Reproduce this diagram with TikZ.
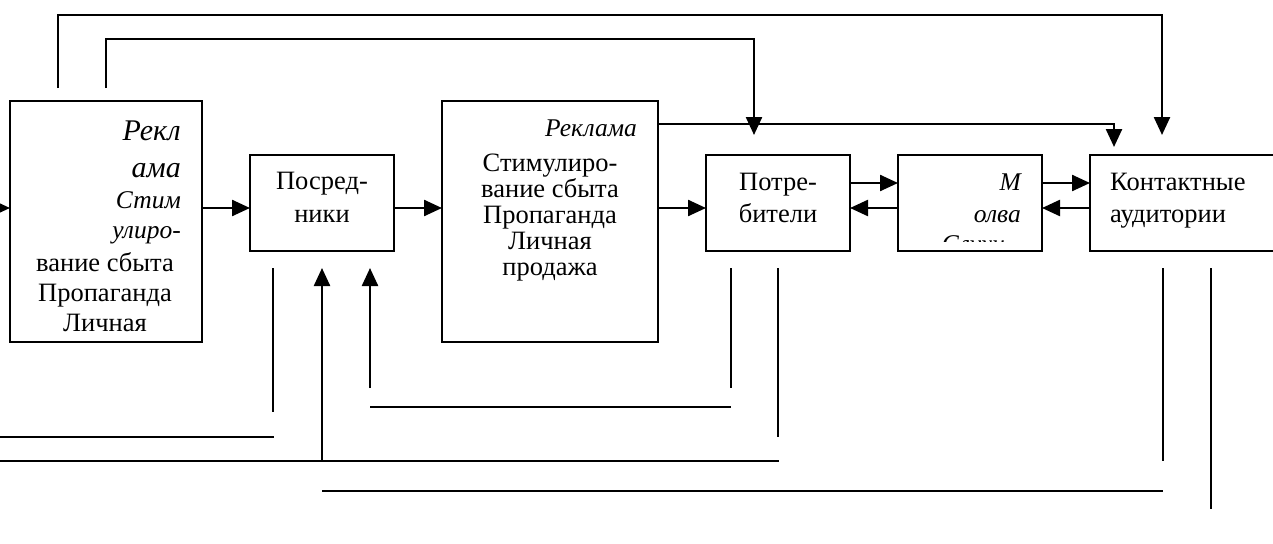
\documentclass[tikz,border=0pt]{standalone}
\usepackage{fontspec}
\setmainfont{Liberation Serif}
\usetikzlibrary{arrows.meta}
\begin{document}
\begin{tikzpicture}[x=1pt,y=-1pt,
  boxst/.style={draw, line width=2.2pt, inner sep=0pt, outer sep=0pt, anchor=north west},
  ln/.style={line width=2.4pt},
  arr/.style={line width=2.4pt, -{Triangle[length=18pt,width=16pt]}},
  txt/.style={inner sep=0pt, font=\fontsize{26.5}{30}\selectfont},
  itx/.style={inner sep=0pt, font=\fontsize{25.5}{30}\selectfont\itshape},
  itbig/.style={inner sep=0pt, font=\fontsize{30}{34}\selectfont\itshape}]
\useasboundingbox (0,0) rectangle (1273,543);

% boxes
\node[boxst, minimum width=192pt, minimum height=241pt] (b1) at (10,101) {};
\node[boxst, minimum width=144pt, minimum height=96pt] (b2) at (250,155) {};
\node[boxst, minimum width=216pt, minimum height=241pt] (b3) at (442,101) {};
\node[boxst, minimum width=144pt, minimum height=96pt] (b4) at (706,155) {};
\node[boxst, minimum width=144pt, minimum height=96pt] (b5) at (898,155) {};
\node[boxst, minimum width=220pt, minimum height=96pt] (b6) at (1090,155) {};

% texts box 1
\node[itbig, anchor=base east] (t1a) at (181,140) {Рекл};
\node[itbig, anchor=base east] (t1b) at (181,177) {ама};
\node[itx, anchor=base east] (t1c) at (181,208) {Стим};
\node[itx, anchor=base east] (t1d) at (181,238) {улиро-};
\node[txt, anchor=base] (t1e) at (105,271) {вание сбыта};
\node[txt, anchor=base] (t1f) at (105,301) {Пропаганда};
\node[txt, anchor=base] (t1g) at (105,331) {Личная};

% box 2
\node[txt, anchor=base] (t2a) at (322,189) {Посред-};
\node[txt, anchor=base] (t2b) at (322,222) {ники};

% box 3
\node[itx, anchor=base east] (t3a) at (637,136) {Реклама};
\node[txt, anchor=base] (t3b) at (550,171) {Стимулиро-};
\node[txt, anchor=base] (t3c) at (550,197) {вание сбыта};
\node[txt, anchor=base] (t3d) at (550,223) {Пропаганда};
\node[txt, anchor=base] (t3e) at (550,249) {Личная};
\node[txt, anchor=base] (t3f) at (550,275) {продажа};

% box 4
\node[txt, anchor=base] (t4a) at (778,190) {Потре-};
\node[txt, anchor=base] (t4b) at (778,222) {бители};

% box 5
\node[itx, anchor=base east] (t5a) at (1021,190) {М};
\node[itx, anchor=base east] (t5b) at (1021,222) {олва};
\begin{scope}
  \clip (899,156) rectangle (1041,241);
  \node[itx, anchor=base east] (t5c) at (1005,252) {Слухи};
\end{scope}

% box 6
\node[txt, anchor=base west] (t6a) at (1110,190) {Контактные};
\node[txt, anchor=base west] (t6b) at (1110,222) {аудитории};

% horizontal arrows
\coordinate (rL) at (0,208);
\coordinate (rU) at (0,183);
\draw[arr] (rL) -- (rL -| b1.west);
\draw[arr] (b1.east |- rL) -- (b2.west |- rL);
\draw[arr] (b2.east |- rL) -- (b3.west |- rL);
\draw[arr] (b3.east |- rL) -- (b4.west |- rL);
\draw[arr] (b4.east |- rU) -- (b5.west |- rU);
\draw[arr] (b5.west |- rL) -- (b4.east |- rL);
\draw[arr] (b5.east |- rU) -- (b6.west |- rU);
\draw[arr] (b6.west |- rL) -- (b5.east |- rL);

% top feedback lines
\coordinate (top1) at (0,15);
\coordinate (top2) at (0,39);
\coordinate (r3) at (0,124);
\coordinate (s1) at (58,88);
\coordinate (e1) at (1162,135);
\coordinate (s2) at (106,88);
\coordinate (e2) at (754,135);
\coordinate (e3) at (1114,147);
\draw[arr] (s1) -- (s1 |- top1) -- (e1 |- top1) -- (e1);
\draw[arr] (s2) -- (s2 |- top2) -- (e2 |- top2) -- (e2);
\draw[arr] (b3.east |- r3) -- (e3 |- r3) -- (e3);

% bottom lines
\coordinate (v1a) at (273,268); \coordinate (v1b) at (273,412);
\coordinate (h1a) at (0,437);   \coordinate (h1b) at (274,437);
\coordinate (u1a) at (322,461); \coordinate (u1b) at (322,268);
\coordinate (u2a) at (370,388); \coordinate (u2b) at (370,268);
\coordinate (h2a) at (370,407); \coordinate (h2b) at (731,407);
\coordinate (v2a) at (731,268); \coordinate (v2b) at (731,388);
\coordinate (v3a) at (778,268); \coordinate (v3b) at (778,437);
\coordinate (h3a) at (0,461);   \coordinate (h3b) at (779,461);
\coordinate (h4a) at (322,491); \coordinate (h4b) at (1163,491);
\coordinate (v4a) at (1163,268); \coordinate (v4b) at (1163,461);
\coordinate (v5a) at (1211,268); \coordinate (v5b) at (1211,509);

\draw[ln] (v1a) -- (v1b);
\draw[ln] (h1a) -- (h1b);
\draw[arr] (u1a) -- (u1b);
\draw[arr] (u2a) -- (u2b);
\draw[ln] (h2a) -- (h2b);
\draw[ln] (v2a) -- (v2b);
\draw[ln] (v3a) -- (v3b);
\draw[ln] (h3a) -- (h3b);
\draw[ln] (h4a) -- (h4b);
\draw[ln] (v4a) -- (v4b);
\draw[ln] (v5a) -- (v5b);
\end{tikzpicture}
\end{document}
